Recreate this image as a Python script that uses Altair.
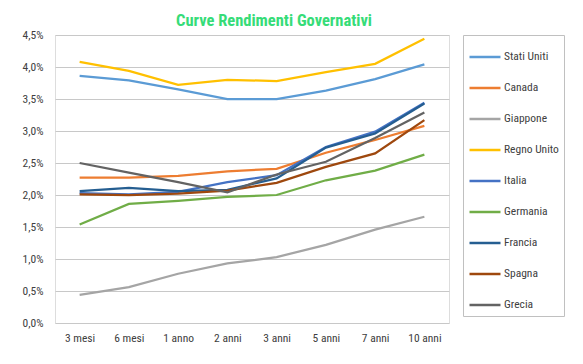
import altair as alt
import pandas as pd

scadenze = ["3 mesi", "6 mesi", "1 anno", "2 anni", "3 anni", "5 anni", "7 anni", "10 anni"]
paesi = ["Stati Uniti", "Canada", "Giappone", "Regno Unito", "Italia", "Germania", "Francia", "Spagna", "Grecia"]
colori = ["#5B9BD5", "#ED7D31", "#A5A5A5", "#FFC000", "#4472C4", "#70AD47", "#255E91", "#9E480E", "#636363"]

stati_uniti = [3.86, 3.79, 3.65, 3.50, 3.50, 3.63, 3.81, 4.04]
canada = [2.27, 2.27, 2.30, 2.37, 2.41, 2.66, 2.86, 3.08]
giappone = [0.44, 0.56, 0.77, 0.93, 1.03, 1.22, 1.46, 1.66]
regno_unito = [4.08, 3.94, 3.72, 3.80, 3.78, 3.92, 4.05, 4.44]
italia = [2.03, 2.01, 2.05, 2.20, 2.31, 2.75, 2.99, 3.44]
germania = [1.54, 1.86, 1.91, 1.97, 2.00, 2.23, 2.38, 2.63]
francia = [2.06, 2.11, 2.06, 2.08, 2.26, 2.74, 2.96, 3.43]
spagna = [2.01, 2.00, 2.02, 2.07, 2.19, 2.44, 2.65, 3.17]
grecia = [2.50, 2.35, 2.20, 2.04, 2.32, 2.52, 2.89, 3.29]

serie = [stati_uniti, canada, giappone, regno_unito, italia, germania, francia, spagna, grecia]

rows = []
for p, vals in zip(paesi, serie):
    for s, v in zip(scadenze, vals):
        rows.append({"Paese": p, "Scadenza": s, "Rendimento": v / 100})
df = pd.DataFrame(rows)

FONT = "Roboto Condensed, Liberation Sans Narrow, Roboto, sans-serif"

chart = alt.Chart(df).mark_line(strokeWidth=2.25).encode(
    x=alt.X("Scadenza:N", sort=scadenze, title=None,
            scale=alt.Scale(paddingInner=0, paddingOuter=0),
            axis=alt.Axis(labelAngle=0, ticks=False, domain=False, grid=False,
                          labelPadding=9, labelFontSize=11.5, labelColor="#404040",
                          labelFont=FONT)),
    y=alt.Y("Rendimento:Q", title=None,
            scale=alt.Scale(domain=[0, 0.045], nice=False),
            axis=alt.Axis(values=[i * 0.005 for i in range(10)],
                          labelExpr="replace(format(datum.value, '.1%'), '.', ',')",
                          ticks=False, domain=False, gridColor="#C8C8C8",
                          labelPadding=12, labelFontSize=11.5, labelColor="#404040",
                          labelFont=FONT)),
    color=alt.Color("Paese:N", sort=paesi,
                    scale=alt.Scale(domain=paesi, range=colori),
                    legend=alt.Legend(title=None, orient="none", legendX=408, legendY=0,
                                      symbolType="stroke", symbolSize=961,
                                      symbolStrokeWidth=2.5, rowPadding=8, padding=5,
                                      strokeColor="#C0C0C0", fillColor="white",
                                      labelFontSize=11.5, labelColor="#404040",
                                      labelFont=FONT, labelOffset=2,
                                      labelLimit=100)),
    order=alt.Order("Paese:N"),
).properties(
    width=394,
    height=288,
    padding={"left": 47, "top": 27, "right": 120, "bottom": 20},
    autosize=alt.AutoSizeParams(type="none"),
    title=alt.TitleParams("Curve Rendimenti Governativi", color="#36DC78",
                          fontSize=16.5, font=FONT, fontWeight="bold",
                          anchor="middle", dx=22, offset=0),
).configure_view(stroke="#C0C0C0").configure(background="white")

chart.save("out.html", embed_options={"renderer": "svg", "actions": False})
